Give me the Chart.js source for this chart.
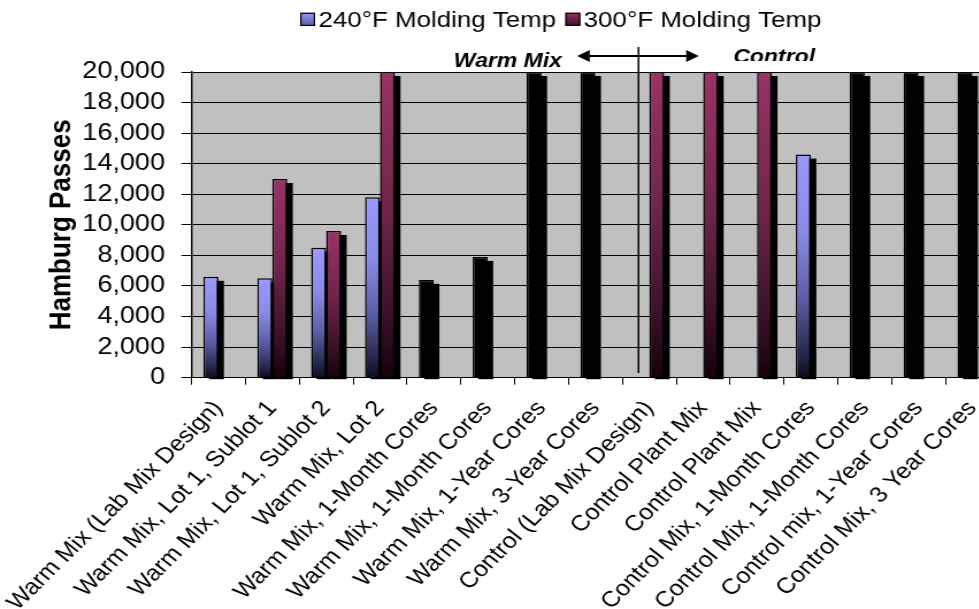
<!DOCTYPE html>
<html>
<head>
<meta charset="utf-8">
<script src="https://cdn.jsdelivr.net/npm/chart.js@4/dist/chart.umd.min.js"></script>
<style>
  html, body { margin: 0; padding: 0; background: #fff; overflow: hidden; width: 979px; height: 609px; }
  #wrap { position: absolute; left: 0; top: 0; width: 869px; height: 609px;
          transform: scaleX(1.15); transform-origin: 0 0; }
</style>
</head>
<body>
<div id="wrap"><canvas id="chart"></canvas></div>
<script>
// Hamburg wheel-tracking passes by mix / sample source
const categories = [
  "Warm Mix (Lab Mix Design)",
  "Warm Mix, Lot 1, Sublot 1",
  "Warm Mix, Lot 1, Sublot 2",
  "Warm Mix, Lot 2",
  "Warm Mix, 1-Month Cores",
  "Warm Mix, 1-Month Cores",
  "Warm Mix, 1-Year Cores",
  "Warm Mix, 3-Year Cores",
  "Control (Lab Mix Design)",
  "Control Plant Mix",
  "Control Plant Mix",
  "Control Mix, 1-Month Cores",
  "Control Mix, 1-Month Cores",
  "Control mix, 1-Year Cores",
  "Control Mix, 3 Year Cores"
];

const seriesNames = ["240\u00B0F Molding Temp", "300\u00B0F Molding Temp", "Cores"];

const passes240 = [6600, 6500, 8500, 11800, null, null, null, null, null, null, null, 14600, null, null, null];
const passes300 = [null, 13000, 9600, 20000, null, null, null, null, 20000, 20000, 20000, null, null, null, null];
const passesCores = [null, null, null, null, 6400, 7900, 20000, 20000, null, null, null, null, 20000, 20000, 20000];

const yMax = 20000;
const yStep = 2000;

const sectionLabels = ["Warm Mix", "Control"];

const FONT = "'Liberation Sans', Arial, sans-serif";

const BLUE_STOPS = [[0, '#9999FF'], [0.35, '#8a8ae6'], [0.65, '#5c5ca6'], [0.9, '#25254a'], [1, '#0c0c18']];
const MAROON_STOPS = [[0, '#993366'], [0.45, '#6e2549'], [0.8, '#3a1027'], [1, '#15020c']];

function barGradient(stops) {
  return (ctx) => {
    const chart = ctx.chart;
    const ys = chart.scales && chart.scales.y;
    const v = ctx.parsed ? ctx.parsed.y : null;
    if (!ys || v == null || !chart.chartArea) return stops[0][1];
    const top = ys.getPixelForValue(v);
    const bot = ys.getPixelForValue(0);
    if (!isFinite(top) || !isFinite(bot) || bot - top < 1) return stops[0][1];
    const g = chart.ctx.createLinearGradient(0, top, 0, bot);
    stops.forEach(s => g.addColorStop(s[0], s[1]));
    return g;
  };
}

// grey plotting area
const plotBackground = {
  id: 'plotBackground',
  beforeDraw(chart) {
    const { ctx, chartArea: a } = chart;
    ctx.save();
    ctx.fillStyle = '#C0C0C0';
    ctx.fillRect(a.left, a.top, a.right - a.left, a.bottom - a.top);
    ctx.restore();
  }
};

// solid black drop shadow behind every bar
const barShadow = {
  id: 'barShadow',
  beforeDatasetsDraw(chart) {
    const ctx = chart.ctx;
    ctx.save();
    ctx.fillStyle = '#000';
    chart.data.datasets.forEach((ds, i) => {
      const meta = chart.getDatasetMeta(i);
      if (meta.hidden) return;
      meta.data.forEach((el, j) => {
        if (ds.data[j] == null) return;
        const p = el.getProps(['x', 'y', 'base', 'width'], true);
        ctx.fillRect(p.x - p.width / 2 + 4.8, p.y + 4, p.width, p.base - p.y - 2);
      });
    });
    ctx.restore();
  }
};

// legend across the top plus the Warm Mix / Control divider
const decorations = {
  id: 'decorations',
  afterDraw(chart) {
    const ctx = chart.ctx;
    const xs = chart.scales.x;
    ctx.save();

    // legend
    ctx.font = `22.5px ${FONT}`;
    ctx.textBaseline = 'alphabetic';
    ctx.textAlign = 'left';
    let lx = 261;
    [[BLUE_STOPS, seriesNames[0]], [MAROON_STOPS, seriesNames[1]]].forEach(([stops, name]) => {
      const g = ctx.createLinearGradient(0, 12.7, 0, 26);
      g.addColorStop(0, stops[0][1]);
      g.addColorStop(1, stops[2][1]);
      ctx.fillStyle = g;
      ctx.fillRect(lx, 12.7, 13, 13.3);
      ctx.strokeStyle = '#000';
      ctx.lineWidth = 1.2;
      ctx.strokeRect(lx + 0.6, 13.3, 11.8, 12.1);
      ctx.fillStyle = '#000';
      ctx.fillText(name, lx + 16, 26.7);
      lx += 16 + ctx.measureText(name).width + 8;
    });

    // divider line between the two mixes
    const dx = xs.getPixelForValue(7.8);
    ctx.strokeStyle = '#000';
    ctx.lineWidth = 1.5;
    ctx.beginPath();
    ctx.moveTo(dx, 47);
    ctx.lineTo(dx, 373);
    ctx.stroke();

    // double-headed arrow
    const ax1 = xs.getPixelForValue(6.66);
    const ax2 = xs.getPixelForValue(8.92);
    const ay = 56;
    const head = 11;
    ctx.lineWidth = 2;
    ctx.beginPath();
    ctx.moveTo(ax1 + head - 1, ay);
    ctx.lineTo(ax2 - head + 1, ay);
    ctx.stroke();
    ctx.fillStyle = '#000';
    ctx.beginPath();
    ctx.moveTo(ax1, ay);
    ctx.lineTo(ax1 + head, ay - 6);
    ctx.lineTo(ax1 + head, ay + 6);
    ctx.closePath();
    ctx.fill();
    ctx.beginPath();
    ctx.moveTo(ax2, ay);
    ctx.lineTo(ax2 - head, ay - 6);
    ctx.lineTo(ax2 - head, ay + 6);
    ctx.closePath();
    ctx.fill();

    // section captions
    ctx.font = `italic bold 20px ${FONT}`;
    ctx.textAlign = 'right';
    ctx.fillText(sectionLabels[0], xs.getPixelForValue(6.38), 66.7);
    ctx.save();
    ctx.beginPath();
    ctx.rect(0, 0, chart.width, 61);
    ctx.clip();
    ctx.textAlign = 'left';
    ctx.fillText(sectionLabels[1], xs.getPixelForValue(9.56), 63);
    ctx.restore();

    ctx.restore();
  }
};

new Chart(document.getElementById('chart'), {
  type: 'bar',
  data: {
    labels: categories,
    datasets: [
      {
        label: seriesNames[0],
        data: passes240,
        stack: 'a',
        backgroundColor: barGradient(BLUE_STOPS),
        borderColor: '#000',
        borderWidth: 1.5
      },
      {
        label: seriesNames[1],
        data: passes300,
        stack: 'b',
        backgroundColor: barGradient(MAROON_STOPS),
        borderColor: '#000',
        borderWidth: 1.5
      },
      {
        label: seriesNames[2],
        data: passesCores,
        stack: 'a',
        backgroundColor: '#000',
        borderColor: '#000',
        borderWidth: 1.5
      }
    ]
  },
  options: {
    responsive: true,
    maintainAspectRatio: false,
    animation: false,
    categoryPercentage: 0.557,
    barPercentage: 1,
    layout: { padding: { top: 72, left: 0, right: 0, bottom: 0 } },
    plugins: {
      legend: { display: false },
      tooltip: { enabled: false }
    },
    scales: {
      x: {
        type: 'category',
        ticks: {
          autoSkip: false,
          minRotation: 48.5,
          maxRotation: 48.5,
          padding: 11,
          color: '#000',
          font: { family: FONT, size: 22 }
        },
        grid: {
          offset: true,
          drawOnChartArea: false,
          drawTicks: true,
          tickLength: 7,
          color: '#000',
          lineWidth: 1
        },
        border: { display: true, color: '#000', width: 1 },
        afterFit(s) {
          s.paddingLeft = 0;
          s.paddingRight = 0;
          s.height = 231.3;
        }
      },
      y: {
        min: 0,
        max: yMax,
        ticks: {
          stepSize: yStep,
          autoSkip: false,
          padding: 14.3,
          color: '#000',
          font: { family: FONT, size: 23.5 },
          callback: v => Number(v).toLocaleString('en-US')
        },
        grid: {
          color: '#000',
          lineWidth: 1,
          tickLength: 8.7,
          tickColor: '#000'
        },
        border: { display: true, color: '#111', width: 1.5 },
        title: {
          display: true,
          text: 'Hamburg Passes',
          color: '#000',
          font: { family: FONT, size: 26, weight: 'bold' },
          padding: { top: 38, bottom: 0 }
        },
        afterFit(s) {
          s.width = 166.5;
        }
      }
    }
  },
  plugins: [plotBackground, barShadow, decorations]
});
</script>
</body>
</html>
